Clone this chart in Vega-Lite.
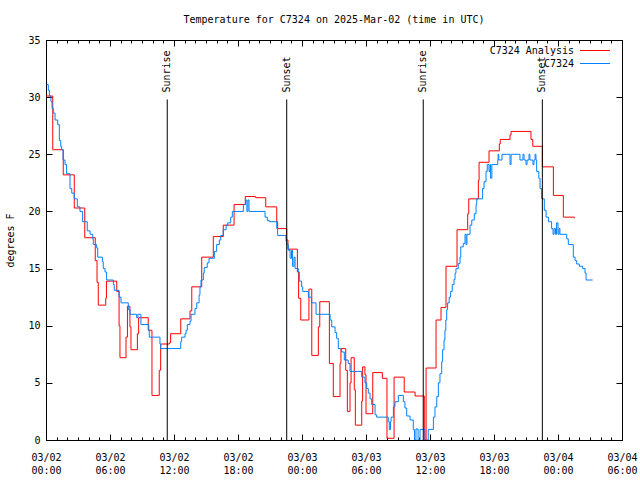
{
  "$schema": "https://vega.github.io/schema/vega-lite/v6.json",
  "width": 576,
  "height": 400,
  "autosize": "none",
  "padding": {"left": 46, "top": 40, "right": 18, "bottom": 40},
  "background": "white",
  "title": {"text": "Temperature for C7324 on 2025-Mar-02 (time in UTC)", "font": "DejaVu Sans Mono", "fontSize": 10, "fontWeight": "normal", "color": "#000", "anchor": "middle", "offset": 10},
  "config": {
    "font": "DejaVu Sans Mono",
    "view": {"stroke": "#000", "strokeWidth": 1},
    "axis": {"labelFont": "DejaVu Sans Mono", "labelFontSize": 10, "labelColor": "#000", "tickColor": "#000", "tickWidth": 1, "titleColor": "#000", "titleFont": "DejaVu Sans Mono", "titleFontSize": 10, "titleFontWeight": "normal", "grid": false, "domain": false},
    "legend": {"labelFont": "DejaVu Sans Mono", "labelFontSize": 10, "labelColor": "#000"}
  },
  "datasets": {
    "series": [
      {"t": "2025-03-02T00:00:00Z", "series": "C7324 Analysis", "temp": 30.1},
      {"t": "2025-03-02T00:38:00Z", "series": "C7324 Analysis", "temp": 25.4},
      {"t": "2025-03-02T01:37:00Z", "series": "C7324 Analysis", "temp": 23.2},
      {"t": "2025-03-02T02:39:00Z", "series": "C7324 Analysis", "temp": 20.3},
      {"t": "2025-03-02T03:38:00Z", "series": "C7324 Analysis", "temp": 17.7},
      {"t": "2025-03-02T04:37:00Z", "series": "C7324 Analysis", "temp": 15.7},
      {"t": "2025-03-02T04:47:00Z", "series": "C7324 Analysis", "temp": 13.8},
      {"t": "2025-03-02T04:54:00Z", "series": "C7324 Analysis", "temp": 11.8},
      {"t": "2025-03-02T05:36:00Z", "series": "C7324 Analysis", "temp": 12.4},
      {"t": "2025-03-02T05:40:00Z", "series": "C7324 Analysis", "temp": 13.9},
      {"t": "2025-03-02T06:38:00Z", "series": "C7324 Analysis", "temp": 13.0},
      {"t": "2025-03-02T06:51:00Z", "series": "C7324 Analysis", "temp": 10.0},
      {"t": "2025-03-02T06:56:00Z", "series": "C7324 Analysis", "temp": 7.2},
      {"t": "2025-03-02T07:30:00Z", "series": "C7324 Analysis", "temp": 9.0},
      {"t": "2025-03-02T07:38:00Z", "series": "C7324 Analysis", "temp": 11.7},
      {"t": "2025-03-02T07:52:00Z", "series": "C7324 Analysis", "temp": 9.9},
      {"t": "2025-03-02T07:58:00Z", "series": "C7324 Analysis", "temp": 7.9},
      {"t": "2025-03-02T08:34:00Z", "series": "C7324 Analysis", "temp": 9.3},
      {"t": "2025-03-02T08:41:00Z", "series": "C7324 Analysis", "temp": 10.7},
      {"t": "2025-03-02T09:35:00Z", "series": "C7324 Analysis", "temp": 9.6},
      {"t": "2025-03-02T09:56:00Z", "series": "C7324 Analysis", "temp": 3.9},
      {"t": "2025-03-02T10:37:00Z", "series": "C7324 Analysis", "temp": 6.1},
      {"t": "2025-03-02T10:45:00Z", "series": "C7324 Analysis", "temp": 8.4},
      {"t": "2025-03-02T11:34:00Z", "series": "C7324 Analysis", "temp": 8.5},
      {"t": "2025-03-02T11:41:00Z", "series": "C7324 Analysis", "temp": 9.3},
      {"t": "2025-03-02T12:38:00Z", "series": "C7324 Analysis", "temp": 10.6},
      {"t": "2025-03-02T13:30:00Z", "series": "C7324 Analysis", "temp": 11.3},
      {"t": "2025-03-02T13:40:00Z", "series": "C7324 Analysis", "temp": 13.4},
      {"t": "2025-03-02T14:36:00Z", "series": "C7324 Analysis", "temp": 16.0},
      {"t": "2025-03-02T15:41:00Z", "series": "C7324 Analysis", "temp": 17.8},
      {"t": "2025-03-02T16:37:00Z", "series": "C7324 Analysis", "temp": 18.8},
      {"t": "2025-03-02T17:38:00Z", "series": "C7324 Analysis", "temp": 20.6},
      {"t": "2025-03-02T18:41:00Z", "series": "C7324 Analysis", "temp": 21.3},
      {"t": "2025-03-02T19:40:00Z", "series": "C7324 Analysis", "temp": 21.2},
      {"t": "2025-03-02T20:36:00Z", "series": "C7324 Analysis", "temp": 20.4},
      {"t": "2025-03-02T21:38:00Z", "series": "C7324 Analysis", "temp": 19.1},
      {"t": "2025-03-02T21:43:00Z", "series": "C7324 Analysis", "temp": 18.5},
      {"t": "2025-03-02T22:34:00Z", "series": "C7324 Analysis", "temp": 17.5},
      {"t": "2025-03-02T22:41:00Z", "series": "C7324 Analysis", "temp": 16.7},
      {"t": "2025-03-02T23:34:00Z", "series": "C7324 Analysis", "temp": 14.7},
      {"t": "2025-03-02T23:41:00Z", "series": "C7324 Analysis", "temp": 12.4},
      {"t": "2025-03-02T23:53:00Z", "series": "C7324 Analysis", "temp": 10.5},
      {"t": "2025-03-03T00:39:00Z", "series": "C7324 Analysis", "temp": 13.2},
      {"t": "2025-03-03T00:55:00Z", "series": "C7324 Analysis", "temp": 7.4},
      {"t": "2025-03-03T01:32:00Z", "series": "C7324 Analysis", "temp": 9.9},
      {"t": "2025-03-03T01:40:00Z", "series": "C7324 Analysis", "temp": 12.1},
      {"t": "2025-03-03T02:34:00Z", "series": "C7324 Analysis", "temp": 6.7},
      {"t": "2025-03-03T02:56:00Z", "series": "C7324 Analysis", "temp": 3.8},
      {"t": "2025-03-03T03:34:00Z", "series": "C7324 Analysis", "temp": 6.7},
      {"t": "2025-03-03T03:39:00Z", "series": "C7324 Analysis", "temp": 8.0},
      {"t": "2025-03-03T04:06:00Z", "series": "C7324 Analysis", "temp": 6.1},
      {"t": "2025-03-03T04:15:00Z", "series": "C7324 Analysis", "temp": 2.5},
      {"t": "2025-03-03T04:30:00Z", "series": "C7324 Analysis", "temp": 5.0},
      {"t": "2025-03-03T04:36:00Z", "series": "C7324 Analysis", "temp": 7.2},
      {"t": "2025-03-03T04:54:00Z", "series": "C7324 Analysis", "temp": 4.4},
      {"t": "2025-03-03T05:00:00Z", "series": "C7324 Analysis", "temp": 1.3},
      {"t": "2025-03-03T05:36:00Z", "series": "C7324 Analysis", "temp": 3.4},
      {"t": "2025-03-03T05:41:00Z", "series": "C7324 Analysis", "temp": 6.4},
      {"t": "2025-03-03T05:54:00Z", "series": "C7324 Analysis", "temp": 5.7},
      {"t": "2025-03-03T06:00:00Z", "series": "C7324 Analysis", "temp": 2.3},
      {"t": "2025-03-03T06:38:00Z", "series": "C7324 Analysis", "temp": 5.9},
      {"t": "2025-03-03T07:32:00Z", "series": "C7324 Analysis", "temp": 5.4},
      {"t": "2025-03-03T07:58:00Z", "series": "C7324 Analysis", "temp": 0.15},
      {"t": "2025-03-03T08:38:00Z", "series": "C7324 Analysis", "temp": 5.5},
      {"t": "2025-03-03T09:35:00Z", "series": "C7324 Analysis", "temp": 4.2},
      {"t": "2025-03-03T10:36:00Z", "series": "C7324 Analysis", "temp": 3.85},
      {"t": "2025-03-03T11:28:00Z", "series": "C7324 Analysis", "temp": 0.0},
      {"t": "2025-03-03T11:38:00Z", "series": "C7324 Analysis", "temp": 6.3},
      {"t": "2025-03-03T12:34:00Z", "series": "C7324 Analysis", "temp": 10.5},
      {"t": "2025-03-03T13:02:00Z", "series": "C7324 Analysis", "temp": 11.6},
      {"t": "2025-03-03T13:30:00Z", "series": "C7324 Analysis", "temp": 15.2},
      {"t": "2025-03-03T14:32:00Z", "series": "C7324 Analysis", "temp": 18.4},
      {"t": "2025-03-03T15:32:00Z", "series": "C7324 Analysis", "temp": 19.8},
      {"t": "2025-03-03T15:38:00Z", "series": "C7324 Analysis", "temp": 21.1},
      {"t": "2025-03-03T16:32:00Z", "series": "C7324 Analysis", "temp": 22.7},
      {"t": "2025-03-03T16:36:00Z", "series": "C7324 Analysis", "temp": 24.3},
      {"t": "2025-03-03T17:32:00Z", "series": "C7324 Analysis", "temp": 25.3},
      {"t": "2025-03-03T18:30:00Z", "series": "C7324 Analysis", "temp": 25.9},
      {"t": "2025-03-03T18:35:00Z", "series": "C7324 Analysis", "temp": 26.3},
      {"t": "2025-03-03T19:30:00Z", "series": "C7324 Analysis", "temp": 26.7},
      {"t": "2025-03-03T19:36:00Z", "series": "C7324 Analysis", "temp": 27.0},
      {"t": "2025-03-03T21:28:00Z", "series": "C7324 Analysis", "temp": 26.3},
      {"t": "2025-03-03T21:38:00Z", "series": "C7324 Analysis", "temp": 25.7},
      {"t": "2025-03-03T22:32:00Z", "series": "C7324 Analysis", "temp": 23.9},
      {"t": "2025-03-03T23:34:00Z", "series": "C7324 Analysis", "temp": 21.4},
      {"t": "2025-03-04T00:30:00Z", "series": "C7324 Analysis", "temp": 19.5},
      {"t": "2025-03-04T01:32:00Z", "series": "C7324 Analysis", "temp": 19.4},

      {"t": "2025-03-02T00:04:00Z", "series": "C7324", "temp": 31.1},
      {"t": "2025-03-02T00:13:00Z", "series": "C7324", "temp": 30.6},
      {"t": "2025-03-02T00:19:00Z", "series": "C7324", "temp": 30.1},
      {"t": "2025-03-02T00:28:00Z", "series": "C7324", "temp": 29.6},
      {"t": "2025-03-02T00:34:00Z", "series": "C7324", "temp": 29.0},
      {"t": "2025-03-02T00:41:00Z", "series": "C7324", "temp": 28.6},
      {"t": "2025-03-02T00:51:00Z", "series": "C7324", "temp": 28.0},
      {"t": "2025-03-02T01:06:00Z", "series": "C7324", "temp": 27.6},
      {"t": "2025-03-02T01:15:00Z", "series": "C7324", "temp": 26.2},
      {"t": "2025-03-02T01:23:00Z", "series": "C7324", "temp": 25.7},
      {"t": "2025-03-02T01:28:00Z", "series": "C7324", "temp": 25.4},
      {"t": "2025-03-02T01:36:00Z", "series": "C7324", "temp": 24.5},
      {"t": "2025-03-02T01:47:00Z", "series": "C7324", "temp": 24.1},
      {"t": "2025-03-02T01:56:00Z", "series": "C7324", "temp": 23.3},
      {"t": "2025-03-02T02:15:00Z", "series": "C7324", "temp": 22.0},
      {"t": "2025-03-02T02:25:00Z", "series": "C7324", "temp": 21.6},
      {"t": "2025-03-02T02:39:00Z", "series": "C7324", "temp": 21.1},
      {"t": "2025-03-02T02:56:00Z", "series": "C7324", "temp": 20.4},
      {"t": "2025-03-02T03:11:00Z", "series": "C7324", "temp": 20.0},
      {"t": "2025-03-02T03:26:00Z", "series": "C7324", "temp": 19.1},
      {"t": "2025-03-02T03:52:00Z", "series": "C7324", "temp": 18.3},
      {"t": "2025-03-02T04:08:00Z", "series": "C7324", "temp": 18.0},
      {"t": "2025-03-02T04:23:00Z", "series": "C7324", "temp": 17.6},
      {"t": "2025-03-02T04:26:00Z", "series": "C7324", "temp": 17.1},
      {"t": "2025-03-02T04:45:00Z", "series": "C7324", "temp": 16.8},
      {"t": "2025-03-02T04:51:00Z", "series": "C7324", "temp": 16.0},
      {"t": "2025-03-02T05:17:00Z", "series": "C7324", "temp": 15.6},
      {"t": "2025-03-02T05:22:00Z", "series": "C7324", "temp": 15.0},
      {"t": "2025-03-02T05:32:00Z", "series": "C7324", "temp": 14.7},
      {"t": "2025-03-02T05:41:00Z", "series": "C7324", "temp": 14.0},
      {"t": "2025-03-02T06:19:00Z", "series": "C7324", "temp": 13.6},
      {"t": "2025-03-02T06:24:00Z", "series": "C7324", "temp": 13.1},
      {"t": "2025-03-02T06:51:00Z", "series": "C7324", "temp": 12.5},
      {"t": "2025-03-02T07:02:00Z", "series": "C7324", "temp": 12.0},
      {"t": "2025-03-02T07:43:00Z", "series": "C7324", "temp": 11.4},
      {"t": "2025-03-02T07:53:00Z", "series": "C7324", "temp": 11.0},
      {"t": "2025-03-02T08:30:00Z", "series": "C7324", "temp": 10.7},
      {"t": "2025-03-02T08:37:00Z", "series": "C7324", "temp": 11.0},
      {"t": "2025-03-02T08:54:00Z", "series": "C7324", "temp": 10.1},
      {"t": "2025-03-02T09:38:00Z", "series": "C7324", "temp": 9.6},
      {"t": "2025-03-02T09:41:00Z", "series": "C7324", "temp": 9.0},
      {"t": "2025-03-02T10:41:00Z", "series": "C7324", "temp": 8.4},
      {"t": "2025-03-02T10:45:00Z", "series": "C7324", "temp": 8.0},
      {"t": "2025-03-02T12:38:00Z", "series": "C7324", "temp": 8.6},
      {"t": "2025-03-02T12:43:00Z", "series": "C7324", "temp": 9.0},
      {"t": "2025-03-02T13:02:00Z", "series": "C7324", "temp": 9.3},
      {"t": "2025-03-02T13:08:00Z", "series": "C7324", "temp": 9.6},
      {"t": "2025-03-02T13:15:00Z", "series": "C7324", "temp": 10.1},
      {"t": "2025-03-02T13:30:00Z", "series": "C7324", "temp": 10.4},
      {"t": "2025-03-02T13:36:00Z", "series": "C7324", "temp": 11.0},
      {"t": "2025-03-02T13:58:00Z", "series": "C7324", "temp": 11.5},
      {"t": "2025-03-02T14:08:00Z", "series": "C7324", "temp": 12.0},
      {"t": "2025-03-02T14:21:00Z", "series": "C7324", "temp": 12.7},
      {"t": "2025-03-02T14:26:00Z", "series": "C7324", "temp": 13.4},
      {"t": "2025-03-02T14:32:00Z", "series": "C7324", "temp": 14.0},
      {"t": "2025-03-02T14:45:00Z", "series": "C7324", "temp": 14.6},
      {"t": "2025-03-02T14:50:00Z", "series": "C7324", "temp": 15.1},
      {"t": "2025-03-02T15:07:00Z", "series": "C7324", "temp": 15.5},
      {"t": "2025-03-02T15:17:00Z", "series": "C7324", "temp": 15.9},
      {"t": "2025-03-02T15:47:00Z", "series": "C7324", "temp": 16.5},
      {"t": "2025-03-02T16:00:00Z", "series": "C7324", "temp": 17.1},
      {"t": "2025-03-02T16:15:00Z", "series": "C7324", "temp": 17.5},
      {"t": "2025-03-02T16:23:00Z", "series": "C7324", "temp": 17.9},
      {"t": "2025-03-02T16:37:00Z", "series": "C7324", "temp": 18.4},
      {"t": "2025-03-02T16:53:00Z", "series": "C7324", "temp": 18.8},
      {"t": "2025-03-02T17:02:00Z", "series": "C7324", "temp": 19.0},
      {"t": "2025-03-02T17:19:00Z", "series": "C7324", "temp": 19.5},
      {"t": "2025-03-02T17:28:00Z", "series": "C7324", "temp": 20.0},
      {"t": "2025-03-02T18:30:00Z", "series": "C7324", "temp": 20.6},
      {"t": "2025-03-02T18:43:00Z", "series": "C7324", "temp": 21.0},
      {"t": "2025-03-02T18:50:00Z", "series": "C7324", "temp": 20.0},
      {"t": "2025-03-02T18:56:00Z", "series": "C7324", "temp": 21.0},
      {"t": "2025-03-02T19:02:00Z", "series": "C7324", "temp": 20.0},
      {"t": "2025-03-02T20:32:00Z", "series": "C7324", "temp": 19.5},
      {"t": "2025-03-02T20:45:00Z", "series": "C7324", "temp": 19.2},
      {"t": "2025-03-02T20:56:00Z", "series": "C7324", "temp": 19.1},
      {"t": "2025-03-02T21:38:00Z", "series": "C7324", "temp": 18.5},
      {"t": "2025-03-02T21:43:00Z", "series": "C7324", "temp": 17.9},
      {"t": "2025-03-02T22:30:00Z", "series": "C7324", "temp": 17.4},
      {"t": "2025-03-02T22:34:00Z", "series": "C7324", "temp": 17.1},
      {"t": "2025-03-02T22:43:00Z", "series": "C7324", "temp": 16.6},
      {"t": "2025-03-02T22:53:00Z", "series": "C7324", "temp": 15.9},
      {"t": "2025-03-02T23:01:00Z", "series": "C7324", "temp": 16.6},
      {"t": "2025-03-02T23:07:00Z", "series": "C7324", "temp": 15.2},
      {"t": "2025-03-02T23:15:00Z", "series": "C7324", "temp": 16.0},
      {"t": "2025-03-02T23:21:00Z", "series": "C7324", "temp": 15.0},
      {"t": "2025-03-02T23:39:00Z", "series": "C7324", "temp": 14.7},
      {"t": "2025-03-02T23:45:00Z", "series": "C7324", "temp": 13.9},
      {"t": "2025-03-02T23:58:00Z", "series": "C7324", "temp": 13.4},
      {"t": "2025-03-03T00:04:00Z", "series": "C7324", "temp": 13.0},
      {"t": "2025-03-03T00:36:00Z", "series": "C7324", "temp": 12.5},
      {"t": "2025-03-03T00:54:00Z", "series": "C7324", "temp": 12.0},
      {"t": "2025-03-03T01:19:00Z", "series": "C7324", "temp": 11.0},
      {"t": "2025-03-03T02:38:00Z", "series": "C7324", "temp": 10.5},
      {"t": "2025-03-03T02:47:00Z", "series": "C7324", "temp": 9.9},
      {"t": "2025-03-03T03:06:00Z", "series": "C7324", "temp": 9.4},
      {"t": "2025-03-03T03:15:00Z", "series": "C7324", "temp": 8.9},
      {"t": "2025-03-03T03:24:00Z", "series": "C7324", "temp": 8.0},
      {"t": "2025-03-03T03:43:00Z", "series": "C7324", "temp": 7.7},
      {"t": "2025-03-03T03:58:00Z", "series": "C7324", "temp": 7.0},
      {"t": "2025-03-03T04:20:00Z", "series": "C7324", "temp": 6.7},
      {"t": "2025-03-03T04:30:00Z", "series": "C7324", "temp": 6.0},
      {"t": "2025-03-03T05:36:00Z", "series": "C7324", "temp": 5.5},
      {"t": "2025-03-03T05:54:00Z", "series": "C7324", "temp": 5.0},
      {"t": "2025-03-03T06:04:00Z", "series": "C7324", "temp": 4.5},
      {"t": "2025-03-03T06:13:00Z", "series": "C7324", "temp": 4.1},
      {"t": "2025-03-03T06:23:00Z", "series": "C7324", "temp": 3.6},
      {"t": "2025-03-03T06:32:00Z", "series": "C7324", "temp": 3.1},
      {"t": "2025-03-03T06:51:00Z", "series": "C7324", "temp": 2.2},
      {"t": "2025-03-03T07:00:00Z", "series": "C7324", "temp": 2.0},
      {"t": "2025-03-03T08:05:00Z", "series": "C7324", "temp": 1.6},
      {"t": "2025-03-03T08:11:00Z", "series": "C7324", "temp": 0.9},
      {"t": "2025-03-03T08:18:00Z", "series": "C7324", "temp": 1.6},
      {"t": "2025-03-03T08:21:00Z", "series": "C7324", "temp": 2.0},
      {"t": "2025-03-03T08:34:00Z", "series": "C7324", "temp": 2.9},
      {"t": "2025-03-03T08:43:00Z", "series": "C7324", "temp": 3.35},
      {"t": "2025-03-03T09:02:00Z", "series": "C7324", "temp": 3.9},
      {"t": "2025-03-03T09:30:00Z", "series": "C7324", "temp": 3.35},
      {"t": "2025-03-03T09:39:00Z", "series": "C7324", "temp": 2.8},
      {"t": "2025-03-03T09:49:00Z", "series": "C7324", "temp": 2.1},
      {"t": "2025-03-03T10:08:00Z", "series": "C7324", "temp": 1.75},
      {"t": "2025-03-03T10:26:00Z", "series": "C7324", "temp": 0.9},
      {"t": "2025-03-03T10:33:00Z", "series": "C7324", "temp": 0.0},
      {"t": "2025-03-03T10:41:00Z", "series": "C7324", "temp": 0.96},
      {"t": "2025-03-03T10:53:00Z", "series": "C7324", "temp": 0.0},
      {"t": "2025-03-03T11:04:00Z", "series": "C7324", "temp": 0.93},
      {"t": "2025-03-03T11:32:00Z", "series": "C7324", "temp": 0.0},
      {"t": "2025-03-03T11:50:00Z", "series": "C7324", "temp": 0.93},
      {"t": "2025-03-03T12:19:00Z", "series": "C7324", "temp": 2.0},
      {"t": "2025-03-03T12:28:00Z", "series": "C7324", "temp": 2.9},
      {"t": "2025-03-03T12:38:00Z", "series": "C7324", "temp": 3.8},
      {"t": "2025-03-03T12:47:00Z", "series": "C7324", "temp": 5.0},
      {"t": "2025-03-03T12:56:00Z", "series": "C7324", "temp": 5.8},
      {"t": "2025-03-03T13:06:00Z", "series": "C7324", "temp": 6.85},
      {"t": "2025-03-03T13:11:00Z", "series": "C7324", "temp": 7.9},
      {"t": "2025-03-03T13:19:00Z", "series": "C7324", "temp": 8.75},
      {"t": "2025-03-03T13:24:00Z", "series": "C7324", "temp": 9.6},
      {"t": "2025-03-03T13:29:00Z", "series": "C7324", "temp": 10.5},
      {"t": "2025-03-03T13:34:00Z", "series": "C7324", "temp": 11.4},
      {"t": "2025-03-03T13:39:00Z", "series": "C7324", "temp": 12.0},
      {"t": "2025-03-03T13:48:00Z", "series": "C7324", "temp": 12.5},
      {"t": "2025-03-03T13:56:00Z", "series": "C7324", "temp": 13.0},
      {"t": "2025-03-03T14:05:00Z", "series": "C7324", "temp": 13.6},
      {"t": "2025-03-03T14:15:00Z", "series": "C7324", "temp": 14.05},
      {"t": "2025-03-03T14:21:00Z", "series": "C7324", "temp": 14.6},
      {"t": "2025-03-03T14:26:00Z", "series": "C7324", "temp": 15.0},
      {"t": "2025-03-03T14:39:00Z", "series": "C7324", "temp": 15.45},
      {"t": "2025-03-03T14:49:00Z", "series": "C7324", "temp": 16.0},
      {"t": "2025-03-03T14:53:00Z", "series": "C7324", "temp": 16.9},
      {"t": "2025-03-03T15:07:00Z", "series": "C7324", "temp": 17.2},
      {"t": "2025-03-03T15:17:00Z", "series": "C7324", "temp": 18.0},
      {"t": "2025-03-03T15:23:00Z", "series": "C7324", "temp": 17.1},
      {"t": "2025-03-03T15:28:00Z", "series": "C7324", "temp": 18.0},
      {"t": "2025-03-03T15:45:00Z", "series": "C7324", "temp": 18.8},
      {"t": "2025-03-03T15:55:00Z", "series": "C7324", "temp": 19.25},
      {"t": "2025-03-03T16:09:00Z", "series": "C7324", "temp": 19.8},
      {"t": "2025-03-03T16:19:00Z", "series": "C7324", "temp": 20.6},
      {"t": "2025-03-03T16:23:00Z", "series": "C7324", "temp": 21.1},
      {"t": "2025-03-03T16:56:00Z", "series": "C7324", "temp": 22.0},
      {"t": "2025-03-03T17:04:00Z", "series": "C7324", "temp": 22.6},
      {"t": "2025-03-03T17:15:00Z", "series": "C7324", "temp": 23.5},
      {"t": "2025-03-03T17:22:00Z", "series": "C7324", "temp": 24.1},
      {"t": "2025-03-03T17:32:00Z", "series": "C7324", "temp": 23.5},
      {"t": "2025-03-03T17:38:00Z", "series": "C7324", "temp": 24.1},
      {"t": "2025-03-03T17:41:00Z", "series": "C7324", "temp": 22.9},
      {"t": "2025-03-03T17:48:00Z", "series": "C7324", "temp": 24.1},
      {"t": "2025-03-03T18:21:00Z", "series": "C7324", "temp": 24.5},
      {"t": "2025-03-03T18:23:00Z", "series": "C7324", "temp": 25.0},
      {"t": "2025-03-03T18:27:00Z", "series": "C7324", "temp": 24.5},
      {"t": "2025-03-03T18:45:00Z", "series": "C7324", "temp": 25.0},
      {"t": "2025-03-03T19:30:00Z", "series": "C7324", "temp": 24.1},
      {"t": "2025-03-03T19:36:00Z", "series": "C7324", "temp": 25.0},
      {"t": "2025-03-03T20:26:00Z", "series": "C7324", "temp": 24.5},
      {"t": "2025-03-03T20:43:00Z", "series": "C7324", "temp": 25.0},
      {"t": "2025-03-03T20:49:00Z", "series": "C7324", "temp": 24.5},
      {"t": "2025-03-03T21:00:00Z", "series": "C7324", "temp": 24.1},
      {"t": "2025-03-03T21:06:00Z", "series": "C7324", "temp": 24.5},
      {"t": "2025-03-03T21:17:00Z", "series": "C7324", "temp": 25.0},
      {"t": "2025-03-03T21:22:00Z", "series": "C7324", "temp": 24.5},
      {"t": "2025-03-03T21:39:00Z", "series": "C7324", "temp": 24.1},
      {"t": "2025-03-03T21:45:00Z", "series": "C7324", "temp": 24.5},
      {"t": "2025-03-03T21:51:00Z", "series": "C7324", "temp": 25.0},
      {"t": "2025-03-03T21:56:00Z", "series": "C7324", "temp": 24.5},
      {"t": "2025-03-03T22:00:00Z", "series": "C7324", "temp": 23.5},
      {"t": "2025-03-03T22:12:00Z", "series": "C7324", "temp": 22.9},
      {"t": "2025-03-03T22:19:00Z", "series": "C7324", "temp": 22.0},
      {"t": "2025-03-03T22:28:00Z", "series": "C7324", "temp": 21.1},
      {"t": "2025-03-03T22:43:00Z", "series": "C7324", "temp": 20.1},
      {"t": "2025-03-03T22:53:00Z", "series": "C7324", "temp": 19.5},
      {"t": "2025-03-03T23:06:00Z", "series": "C7324", "temp": 19.1},
      {"t": "2025-03-03T23:24:00Z", "series": "C7324", "temp": 18.5},
      {"t": "2025-03-03T23:32:00Z", "series": "C7324", "temp": 18.0},
      {"t": "2025-03-03T23:38:00Z", "series": "C7324", "temp": 18.5},
      {"t": "2025-03-03T23:46:00Z", "series": "C7324", "temp": 18.0},
      {"t": "2025-03-03T23:52:00Z", "series": "C7324", "temp": 19.0},
      {"t": "2025-03-04T00:00:00Z", "series": "C7324", "temp": 18.0},
      {"t": "2025-03-04T00:06:00Z", "series": "C7324", "temp": 18.5},
      {"t": "2025-03-04T00:11:00Z", "series": "C7324", "temp": 18.0},
      {"t": "2025-03-04T00:49:00Z", "series": "C7324", "temp": 17.6},
      {"t": "2025-03-04T00:58:00Z", "series": "C7324", "temp": 17.1},
      {"t": "2025-03-04T01:26:00Z", "series": "C7324", "temp": 16.0},
      {"t": "2025-03-04T01:36:00Z", "series": "C7324", "temp": 15.7},
      {"t": "2025-03-04T01:45:00Z", "series": "C7324", "temp": 15.4},
      {"t": "2025-03-04T02:00:00Z", "series": "C7324", "temp": 15.2},
      {"t": "2025-03-04T02:19:00Z", "series": "C7324", "temp": 15.0},
      {"t": "2025-03-04T02:32:00Z", "series": "C7324", "temp": 14.6},
      {"t": "2025-03-04T02:38:00Z", "series": "C7324", "temp": 14.0},
      {"t": "2025-03-04T03:15:00Z", "series": "C7324", "temp": 14.0}
    ],
    "sun": [
      {"t": "2025-03-02T11:22:00Z", "label": "Sunrise"},
      {"t": "2025-03-02T22:34:00Z", "label": "Sunset"},
      {"t": "2025-03-03T11:22:00Z", "label": "Sunrise"},
      {"t": "2025-03-03T22:32:00Z", "label": "Sunset"}
    ]
  },
  "layer": [
    {
      "data": {"name": "series"},
      "transform": [{"filter": "datum.series === 'C7324 Analysis'"}],
      "mark": {"type": "line", "interpolate": "step-after", "strokeWidth": 1, "clip": true},
      "encoding": {
        "x": {"field": "t", "type": "temporal",
              "scale": {"type": "utc", "domain": [1740873600000, 1741068000000]},
              "axis": {"orient": "bottom", "offset": -6, "values": [1740873600000, 1740895200000, 1740916800000, 1740938400000, 1740960000000, 1740981600000, 1741003200000, 1741024800000, 1741046400000, 1741068000000], "tickSize": 6, "labelPadding": 12, "labelExpr": "[utcFormat(datum.value, '%m/%d'), utcFormat(datum.value, '%H:%M')]", "labelLineHeight": 13, "labelFlush": false, "labelOverlap": false, "labelBound": false, "labelBaseline": "top", "title": null}},
        "y": {"field": "temp", "type": "quantitative",
              "scale": {"domain": [0, 35], "nice": false, "zero": false},
              "axis": {"orient": "left", "offset": -6, "values": [0, 5, 10, 15, 20, 25, 30, 35], "tickSize": 6, "labelPadding": 6, "title": "degrees F", "titlePadding": 12}},
        "color": {"field": "series", "type": "nominal",
                  "scale": {"domain": ["C7324 Analysis", "C7324"], "range": ["#ff0000", "#0080ff"]},
                  "legend": {"orient": "none", "legendX": 444, "legendY": 4, "title": null, "symbolType": "M-2.5,0H2.5", "symbolSize": 144, "symbolStrokeWidth": 1, "padding": 0, "rowPadding": 1,
                             "encode": {"symbols": {"update": {"x": {"value": 105}}}, "labels": {"update": {"x": {"value": 84}, "align": {"value": "right"}}}}}}
      }
    },
    {
      "data": {"name": "series"},
      "transform": [{"filter": "datum.series === 'C7324'"}],
      "mark": {"type": "line", "interpolate": "step-after", "strokeWidth": 1, "clip": true},
      "encoding": {
        "x": {"field": "t", "type": "temporal",
              "scale": {"type": "utc", "domain": [1740873600000, 1741068000000]},
              "axis": {"orient": "top", "offset": -6, "values": [1740873600000, 1740895200000, 1740916800000, 1740938400000, 1740960000000, 1740981600000, 1741003200000, 1741024800000, 1741046400000, 1741068000000], "tickSize": 6, "labels": false, "title": null}},
        "y": {"field": "temp", "type": "quantitative",
              "scale": {"domain": [0, 35], "nice": false, "zero": false},
              "axis": {"orient": "right", "offset": -6, "values": [0, 5, 10, 15, 20, 25, 30, 35], "tickSize": 6, "labels": false, "title": null}},
        "color": {"field": "series", "type": "nominal",
                  "scale": {"domain": ["C7324 Analysis", "C7324"], "range": ["#ff0000", "#0080ff"]},
                  "legend": {"orient": "none", "legendX": 444, "legendY": 4, "title": null, "symbolType": "M-2.5,0H2.5", "symbolSize": 144, "symbolStrokeWidth": 1, "padding": 0, "rowPadding": 1,
                             "encode": {"symbols": {"update": {"x": {"value": 105}}}, "labels": {"update": {"x": {"value": 84}, "align": {"value": "right"}}}}}}
      }
    },
    {
      "data": {"name": "sun"},
      "mark": {"type": "rule", "color": "#000", "strokeWidth": 1},
      "encoding": {
        "x": {"field": "t", "type": "temporal",
              "scale": {"type": "utc", "domain": [1740873600000, 1741068000000]},
              "axis": {"orient": "bottom", "offset": -3, "values": [1740873600000, 1740877200000, 1740880800000, 1740884400000, 1740888000000, 1740891600000, 1740895200000, 1740898800000, 1740902400000, 1740906000000, 1740909600000, 1740913200000, 1740916800000, 1740920400000, 1740924000000, 1740927600000, 1740931200000, 1740934800000, 1740938400000, 1740942000000, 1740945600000, 1740949200000, 1740952800000, 1740956400000, 1740960000000, 1740963600000, 1740967200000, 1740970800000, 1740974400000, 1740978000000, 1740981600000, 1740985200000, 1740988800000, 1740992400000, 1740996000000, 1740999600000, 1741003200000, 1741006800000, 1741010400000, 1741014000000, 1741017600000, 1741021200000, 1741024800000, 1741028400000, 1741032000000, 1741035600000, 1741039200000, 1741042800000, 1741046400000, 1741050000000, 1741053600000, 1741057200000, 1741060800000, 1741064400000, 1741068000000], "tickSize": 3, "labels": false, "title": null}},
        "y": {"datum": 0, "type": "quantitative", "scale": {"domain": [0, 35], "nice": false, "zero": false}, "axis": null},
        "y2": {"datum": 29.8}
      }
    },
    {
      "data": {"name": "sun"},
      "mark": {"type": "text", "angle": 270, "align": "left", "baseline": "middle", "font": "DejaVu Sans Mono", "fontSize": 10, "color": "#000"},
      "encoding": {
        "x": {"field": "t", "type": "temporal",
              "scale": {"type": "utc", "domain": [1740873600000, 1741068000000]},
              "axis": {"orient": "top", "offset": -3, "values": [1740873600000, 1740877200000, 1740880800000, 1740884400000, 1740888000000, 1740891600000, 1740895200000, 1740898800000, 1740902400000, 1740906000000, 1740909600000, 1740913200000, 1740916800000, 1740920400000, 1740924000000, 1740927600000, 1740931200000, 1740934800000, 1740938400000, 1740942000000, 1740945600000, 1740949200000, 1740952800000, 1740956400000, 1740960000000, 1740963600000, 1740967200000, 1740970800000, 1740974400000, 1740978000000, 1740981600000, 1740985200000, 1740988800000, 1740992400000, 1740996000000, 1740999600000, 1741003200000, 1741006800000, 1741010400000, 1741014000000, 1741017600000, 1741021200000, 1741024800000, 1741028400000, 1741032000000, 1741035600000, 1741039200000, 1741042800000, 1741046400000, 1741050000000, 1741053600000, 1741057200000, 1741060800000, 1741064400000, 1741068000000], "tickSize": 3, "labels": false, "title": null}},
        "y": {"datum": 30.4, "type": "quantitative", "scale": {"domain": [0, 35], "nice": false, "zero": false}, "axis": null},
        "text": {"field": "label"}
      }
    }
  ],
  "resolve": {"axis": {"x": "independent", "y": "independent"}}
}
